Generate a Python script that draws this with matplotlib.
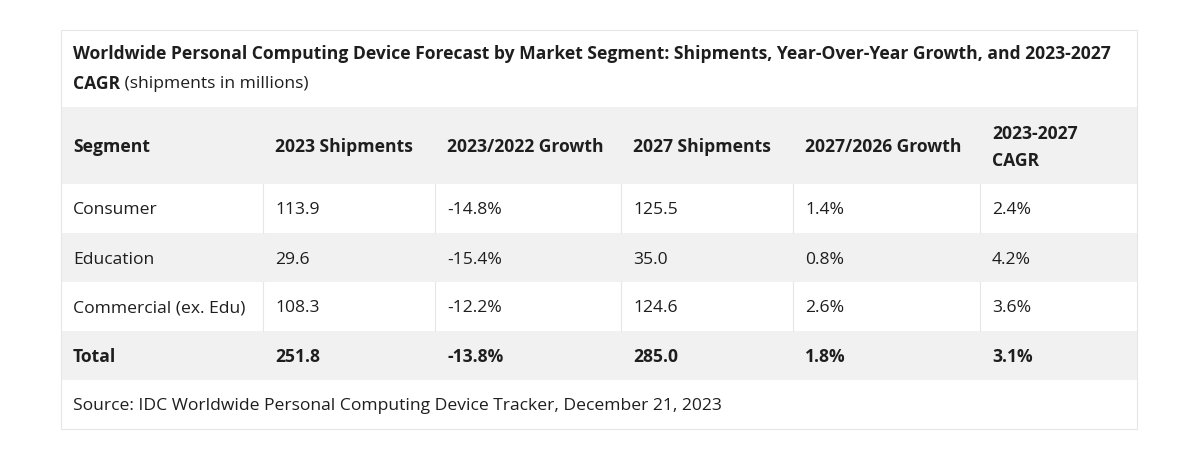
import matplotlib
matplotlib.use("Agg")
import matplotlib.pyplot as plt
from matplotlib.patches import Rectangle

plt.rcParams['font.family'] = ['Open Sans', 'DejaVu Sans']

title_bold = "Worldwide Personal Computing Device Forecast by Market Segment: Shipments, Year-Over-Year Growth, and 2023-2027"
title_bold2 = "CAGR"
title_rest = " (shipments in millions)"
headers = ["Segment", "2023 Shipments", "2023/2022 Growth", "2027 Shipments",
           "2027/2026 Growth", "2023-2027\nCAGR"]
segments = ["Consumer", "Education", "Commercial (ex. Edu)", "Total"]
ship_2023 = ["113.9", "29.6", "108.3", "251.8"]
growth_2023 = ["-14.8%", "-15.4%", "-12.2%", "-13.8%"]
ship_2027 = ["125.5", "35.0", "124.6", "285.0"]
growth_2027 = ["1.4%", "0.8%", "2.6%", "1.8%"]
cagr = ["2.4%", "4.2%", "3.6%", "3.1%"]
source = "Source: IDC Worldwide Personal Computing Device Tracker, December 21, 2023"

cols = [segments, ship_2023, growth_2023, ship_2027, growth_2027, cagr]

# layout in pixels
col_edges = [61, 263, 435, 621, 793, 980, 1137]
top, head_top, head_bot = 30, 107, 184
row_h = 49
pad = 12
fs = 12.6
txt = "#1e1e1e"
gray = "#f1f1f1"
line = "#e6e6e6"
dy = 2  # small nudge so visual centre matches

fig = plt.figure(figsize=(12, 4.5), dpi=100)
ax = fig.add_axes([0, 0, 1, 1])
ax.set_xlim(0, 1200)
ax.set_ylim(450, 0)
ax.axis("off")

left, right = col_edges[0], col_edges[-1]
bottom = head_bot + row_h * 5

# header background
ax.add_patch(Rectangle((left, head_top), right - left, head_bot - head_top,
                       facecolor=gray, edgecolor="none"))
# body rows
for i in range(len(segments)):
    y0 = head_bot + i * row_h
    if i % 2 == 1:
        ax.add_patch(Rectangle((left, y0), right - left, row_h, facecolor=gray,
                               edgecolor="none"))
    else:
        for x in col_edges[1:-1]:
            ax.plot([x, x], [y0, y0 + row_h], color=line, lw=0.8)
    weight = "bold" if segments[i] == "Total" else "normal"
    for j, c in enumerate(cols):
        ax.text(col_edges[j] + pad, y0 + row_h / 2 + dy, c[i], fontsize=fs,
                color=txt, weight=weight, va="center", ha="left")

# header text
for j, h in enumerate(headers):
    ax.text(col_edges[j] + pad, (head_top + head_bot) / 2 + dy, h, fontsize=fs,
            color=txt, weight="bold", va="center", ha="left", linespacing=1.6)

# title
ax.text(left + pad, 54, title_bold, fontsize=fs, color=txt, weight="bold",
        va="center", ha="left")
t2 = ax.text(left + pad, 84, title_bold2, fontsize=fs, color=txt, weight="bold",
             va="center", ha="left")
fig.canvas.draw()
bb = t2.get_window_extent().transformed(ax.transData.inverted())
ax.text(bb.x1, 84, title_rest, fontsize=fs, color=txt, va="center", ha="left")

# footer
ax.text(left + pad, bottom - row_h / 2 + dy, source, fontsize=fs, color=txt,
        va="center", ha="left")

# outer border
ax.add_patch(Rectangle((left, top), right - left, bottom - top, facecolor="none",
                       edgecolor=line, lw=0.8))

fig.savefig("out.png", dpi=100, facecolor="white")
